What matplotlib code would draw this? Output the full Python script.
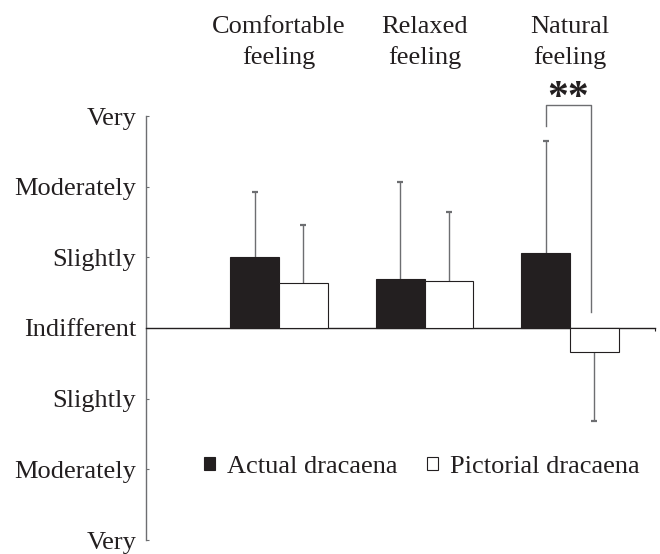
import matplotlib.pyplot as plt
import matplotlib.transforms as mtransforms
import numpy as np

plt.rcParams['font.family'] = ['Liberation Serif', 'DejaVu Serif']

categories = ['Comfortable\nfeeling', 'Relaxed\nfeeling', 'Natural\nfeeling']
actual_mean = [1.00, 0.69, 1.06]
actual_sd = [0.93, 1.37, 1.59]
pictorial_mean = [0.64, 0.67, -0.34]
pictorial_sd = [0.82, 0.97, 0.97]
scale_values = [3, 2, 1, 0, -1, -2, -3]
scale_labels = ['Very', 'Moderately', 'Slightly', 'Indifferent',
                'Slightly', 'Moderately', 'Very']
series_names = ['Actual dracaena', 'Pictorial dracaena']

dark = '#231f20'
grey = '#6d6e71'
fs = 19

fig = plt.figure(figsize=(6.6, 5.54), dpi=100)
ax = fig.add_axes([146 / 660, 14 / 554, 509 / 660, 424 / 554])

x = np.arange(len(categories))
w = 0.335

b1 = ax.bar(x - w / 2, actual_mean, w, color=dark, edgecolor=dark,
            linewidth=0.8, label=series_names[0], zorder=3)
b2 = ax.bar(x + w / 2, pictorial_mean, w, color='white', edgecolor=dark,
            linewidth=0.8, label=series_names[1], zorder=3)

# one-sided error bars, drawn away from zero
for xs, means, sds in [(x - w / 2, actual_mean, actual_sd),
                       (x + w / 2, pictorial_mean, pictorial_sd)]:
    means = np.array(means)
    tips = means + np.sign(means) * np.array(sds)
    ax.vlines(xs, means, tips, color=grey, linewidth=1.0, zorder=2)
    ax.plot(xs, tips, linestyle='none', marker='_', markersize=4,
            markeredgewidth=1.6, color=grey, zorder=2)

# significance bracket for natural feeling
xl = x[2] - w / 2
xr = x[2] + w / 2 - 0.02
ax.plot([xl, xl, xr, xr], [2.86, 3.16, 3.16, 0.22], color=grey,
        linewidth=1.0, clip_on=False, zorder=2)

ax.set_xlim(-0.914, 2.584)
ax.set_ylim(-3, 3)

ax.spines['top'].set_visible(False)
ax.spines['right'].set_visible(False)
ax.spines['bottom'].set_position(('data', 0))
ax.spines['bottom'].set_color(dark)
ax.spines['left'].set_color(grey)
ax.spines['left'].set_linewidth(1.0)
ax.spines['bottom'].set_linewidth(1.0)

ax.set_yticks(scale_values)
ax.set_yticklabels(scale_labels, fontsize=fs, color=dark)
ax.tick_params(axis='y', direction='in', length=2.5, width=0.8,
               color=grey, pad=7)
ax.set_xticks([2.584])
ax.set_xticklabels([''])
ax.tick_params(axis='x', direction='out', length=2.5, width=0.8, color=dark)

trans = mtransforms.blended_transform_factory(ax.transData, fig.transFigure)
for xi, cat in zip(x, categories):
    ax.text(xi, 1 - 16 / 554, cat, ha='center', va='top', fontsize=fs,
            color=dark, linespacing=1.45, transform=trans)

ax.text((xl + xr) / 2, 1 - 99 / 554, '**', ha='center', va='center',
        fontsize=30, fontweight='bold', color=dark, transform=trans)

ax.legend(handles=[b1, b2], loc='center left', bbox_to_anchor=(0.114, 0.172),
          ncol=2, frameon=False, fontsize=fs, handlelength=0.42,
          handleheight=0.42, handletextpad=0.45, columnspacing=1.12,
          borderaxespad=0, borderpad=0, labelcolor=dark)

fig.savefig('out.png', dpi=100)
